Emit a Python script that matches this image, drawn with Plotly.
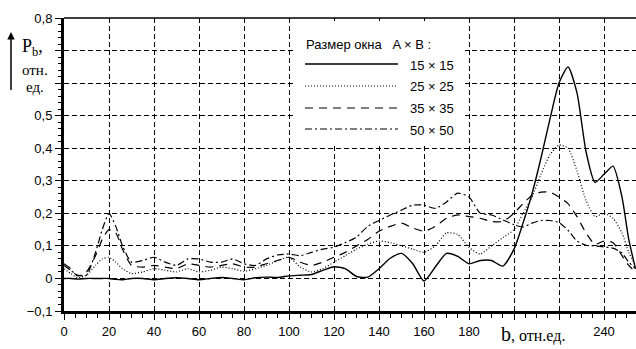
import plotly.graph_objects as go

# Window offset b (relative units)
b_pos = [0, 3, 6, 10, 14, 17, 20, 23, 26, 30,
         35, 40, 45, 50, 55, 60, 65, 70, 75, 80,
         85, 90, 95, 100, 105, 110, 115, 120, 125, 130,
         135, 140, 145, 150, 155, 160, 165, 170, 175, 180,
         185, 190, 195, 200, 204, 208, 212, 216, 220, 224,
         228, 232, 236, 240, 244, 248, 251, 254]

# P_b for each window size A x B
p_15 = [0.0, 0.0, -0.002, 0.0, 0.0, 0.0, 0.0, -0.003, -0.004, 0.0,
        0.0, -0.004, 0.0, 0.002, 0.0, -0.004, 0.0, 0.003, 0.0, -0.004,
        0.002, 0.004, 0.003, 0.008, 0.01, 0.012, 0.025, 0.036, 0.03, 0.006,
        0.004, 0.03, 0.062, 0.077, 0.045, -0.008, 0.035, 0.077, 0.068, 0.045,
        0.055, 0.055, 0.038, 0.09, 0.17, 0.26, 0.37, 0.49, 0.6, 0.65,
        0.57, 0.39, 0.295, 0.32, 0.345, 0.25, 0.12, 0.03]
p_25 = [0.03, 0.015, 0.002, 0.01, 0.04, 0.06, 0.065, 0.05, 0.03, 0.015,
        0.02, 0.03, 0.025, 0.02, 0.03, 0.02, 0.025, 0.035, 0.03, 0.022,
        0.03, 0.04, 0.055, 0.065, 0.035, 0.02, 0.03, 0.05, 0.07, 0.09,
        0.105, 0.115, 0.11, 0.1, 0.09, 0.08, 0.1, 0.14, 0.135, 0.095,
        0.075, 0.1, 0.125, 0.15, 0.2, 0.25, 0.32, 0.38, 0.41, 0.4,
        0.33, 0.24, 0.19, 0.2, 0.185, 0.14, 0.08, 0.04]
p_35 = [0.045, 0.03, 0.008, 0.02, 0.07, 0.12, 0.15, 0.14, 0.09, 0.04,
        0.035, 0.04, 0.035, 0.03, 0.045, 0.04, 0.035, 0.04, 0.045, 0.035,
        0.035, 0.045, 0.055, 0.065, 0.05, 0.04, 0.05, 0.065, 0.08, 0.1,
        0.12, 0.145, 0.16, 0.17, 0.155, 0.145, 0.16, 0.185, 0.195, 0.19,
        0.185, 0.175, 0.175, 0.2, 0.23, 0.255, 0.265, 0.265, 0.25, 0.23,
        0.19, 0.14, 0.105, 0.115, 0.11, 0.07, 0.04, 0.02]
p_50 = [0.04, 0.025, 0.01, 0.01, 0.08, 0.15, 0.2, 0.16, 0.1, 0.05,
        0.055, 0.065, 0.05, 0.04, 0.06, 0.06, 0.05, 0.05, 0.06, 0.045,
        0.04, 0.06, 0.072, 0.075, 0.07, 0.08, 0.09, 0.096, 0.11, 0.127,
        0.16, 0.178, 0.195, 0.21, 0.225, 0.225, 0.215, 0.235, 0.262, 0.25,
        0.2, 0.195, 0.18, 0.165, 0.158, 0.17, 0.178, 0.178, 0.172, 0.148,
        0.115, 0.102, 0.1, 0.097, 0.093, 0.078, 0.05, 0.03]

series_names = ["15 × 15", "25 × 25", "35 × 35", "50 × 50"]
series_vals = [p_15, p_25, p_35, p_50]
series_dash = ["solid", "1px,2px", "8px,6px", "7px,3px,2px,3px"]
series_width = [1.4, 1.2, 1.2, 1.2]

x_ticks = [0, 20, 40, 60, 80, 100, 120, 140, 160, 180, 200, 220, 240]
x_ticktext = ["0", "20", "40", "60", "80", "100", "120", "140", "160", "180", " ", " ", "240"]
y_ticks = [-0.1, 0.0, 0.1, 0.2, 0.3, 0.4, 0.5, 0.6, 0.7, 0.8]
y_ticktext = ["−0,1", "0", "0,1", "0,2", "0,3", "0,4", "0,5", " ", " ", "0,8"]

W, H = 636, 349
ML, MR, MT, MB = 64, 0, 18, 38
PW, PH = W - ML - MR, H - MT - MB


def px_x(px):
    return (px - ML) / PW


def px_y(py):
    return (H - MB - py) / PH


fig = go.Figure()
for name, vals, dash, lw in zip(series_names, series_vals, series_dash, series_width):
    fig.add_trace(go.Scatter(
        x=b_pos, y=vals, mode="lines", name=name,
        line=dict(color="black", width=lw, dash=dash, shape="spline", smoothing=0.6),
        showlegend=False,
    ))

sans = "Liberation Sans, Arial, sans-serif"
serif = "Liberation Serif, Times New Roman, serif"

shapes = [
    # top frame line
    dict(type="line", xref="paper", yref="paper", x0=0, x1=1, y0=1, y1=1,
         line=dict(color="black", width=1.5), layer="above"),
    # legend panel
    dict(type="rect", xref="paper", yref="paper",
         x0=px_x(294), x1=px_x(465), y0=px_y(145), y1=px_y(21),
         fillcolor="white", line=dict(width=0), layer="above"),
]
legend_rows = [64, 86, 108, 129]
for row, dash, lw in zip(legend_rows, series_dash, series_width):
    shapes.append(dict(type="line", xref="paper", yref="paper",
                       x0=px_x(305), x1=px_x(398), y0=px_y(row), y1=px_y(row),
                       line=dict(color="black", width=lw, dash=dash), layer="above"))

annotations = [
    dict(xref="paper", yref="paper", x=px_x(304), y=px_y(44), xanchor="left", yanchor="middle",
         text="Размер окна   A × B :", showarrow=False, font=dict(family=sans, size=13, color="black")),
]
for row, name in zip(legend_rows, series_names):
    annotations.append(dict(xref="paper", yref="paper", x=px_x(408), y=px_y(row + 1),
                            xanchor="left", yanchor="middle", text=name, showarrow=False,
                            font=dict(family=sans, size=13, color="black")))

# y-axis title with upward arrow
annotations += [
    dict(xref="paper", yref="paper", x=px_x(11), y=px_y(32), ax=0, ay=68, text=" ",
         showarrow=True, arrowhead=2, arrowsize=1, arrowwidth=1.5, arrowcolor="black"),
    dict(xref="paper", yref="paper", x=px_x(20), y=px_y(47), xanchor="left", yanchor="middle",
         text="P<sub>b</sub>,", showarrow=False, font=dict(family=serif, size=18, color="black")),
    dict(xref="paper", yref="paper", x=px_x(35), y=px_y(70), xanchor="center", yanchor="middle",
         text="отн.", showarrow=False, font=dict(family=serif, size=15, color="black")),
    dict(xref="paper", yref="paper", x=px_x(35), y=px_y(87), xanchor="center", yanchor="middle",
         text="ед.", showarrow=False, font=dict(family=serif, size=15, color="black")),
    # x-axis title
    dict(xref="paper", yref="paper", x=px_x(499), y=px_y(334), xanchor="left", yanchor="middle",
         text="<span style='font-size:20px'>b</span>, отн.ед.", showarrow=False,
         font=dict(family=serif, size=16, color="black")),
]

grid_style = dict(showgrid=True, gridcolor="black", gridwidth=1, griddash="5px,3px")

fig.update_layout(
    width=W, height=H, autosize=False,
    margin=dict(l=ML, r=MR, t=MT, b=MB, pad=0),
    paper_bgcolor="white", plot_bgcolor="white",
    shapes=shapes, annotations=annotations,
    xaxis=dict(range=[0, PW / 2.25], tickvals=x_ticks, ticktext=x_ticktext,
               showline=True, linecolor="black", linewidth=3,
               ticks="outside", ticklen=6, tickwidth=1, tickcolor="black",
               minor=dict(dtick=5, ticks="outside", ticklen=4, tickcolor="black", showgrid=False),
               tickfont=dict(family=sans, size=13, color="black"),
               zeroline=False, **grid_style),
    yaxis=dict(range=[-0.1, 0.8], tickvals=y_ticks, ticktext=y_ticktext,
               showline=True, linecolor="black", linewidth=3,
               ticks="outside", ticklen=6, tickwidth=1, tickcolor="black",
               minor=dict(dtick=0.02, ticks="outside", ticklen=3, tickcolor="black", showgrid=False),
               tickfont=dict(family=sans, size=13, color="black"),
               zeroline=False, **grid_style),
)

fig.write_html("out.html")
